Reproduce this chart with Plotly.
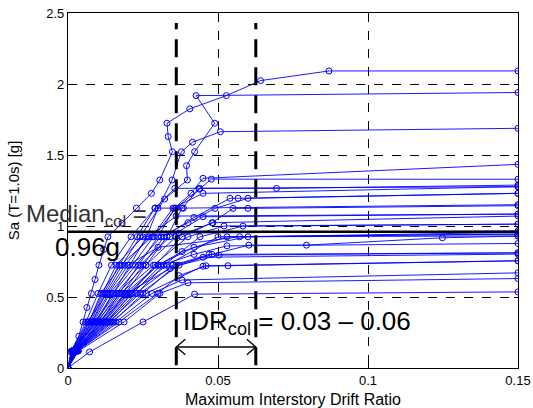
import plotly.graph_objects as go

# ---- IDA curves (max interstory drift ratio vs Sa(T=1.0s)) ----
gm01_idr = [0, 0.0009, 0.0036, 0.0050, 0.0063, 0.0078, 0.0090, 0.0103, 0.0119, 0.0133, 0.0180, 0.0228, 0.0278, 0.0306, 0.0348, 0.0334, 0.0330, 0.0406, 0.0528, 0.0642, 0.0870, 0.150]
gm01_sa = [0, 0.113, 0.224, 0.324, 0.426, 0.525, 0.623, 0.724, 0.835, 0.924, 1.02, 1.126, 1.23, 1.324, 1.523, 1.63, 1.724, 1.825, 1.918, 2.024, 2.092, 2.092]
gm02_idr = [0, 0.0020, 0.0080, 0.0125, 0.0180, 0.0240, 0.0322, 0.0398, 0.0395, 0.0422, 0.0489, 0.0427, 0.150]
gm02_sa = [0, 0.12, 0.324, 0.525, 0.724, 0.924, 1.19, 1.324, 1.425, 1.523, 1.724, 1.918, 1.94]
gm03_idr = [0, 0.0015, 0.0095, 0.0150, 0.0205, 0.0262, 0.0300, 0.0347, 0.0378, 0.0415, 0.0508, 0.150]
gm03_sa = [0, 0.12, 0.324, 0.525, 0.724, 0.924, 1.126, 1.324, 1.523, 1.59, 1.664, 1.688]
gm04_idr = [0, 0.0022, 0.0110, 0.0170, 0.0235, 0.0300, 0.0355, 0.0410, 0.0450, 0.150]
gm04_sa = [0, 0.12, 0.324, 0.525, 0.724, 0.924, 1.126, 1.23, 1.336, 1.434]
gm05_idr = [0, 0.0018, 0.0085, 0.0140, 0.0215, 0.0285, 0.0360, 0.0437, 0.0478, 0.150]
gm05_sa = [0, 0.12, 0.324, 0.525, 0.724, 0.924, 1.126, 1.26, 1.33, 1.329]
gm06_idr = [0, 0.0025, 0.0120, 0.0190, 0.0260, 0.0330, 0.0380, 0.0439, 0.0695, 0.150]
gm06_sa = [0, 0.12, 0.324, 0.525, 0.724, 0.924, 1.126, 1.265, 1.265, 1.288]
gm07_idr = [0, 0.0016, 0.0075, 0.0120, 0.0170, 0.0230, 0.0290, 0.0356, 0.150]
gm07_sa = [0, 0.12, 0.324, 0.525, 0.724, 0.924, 1.126, 1.265, 1.277]
gm08_idr = [0, 0.0023, 0.0105, 0.0180, 0.0250, 0.0320, 0.0420, 0.0540, 0.0567, 0.150]
gm08_sa = [0, 0.12, 0.324, 0.525, 0.724, 0.924, 1.06, 1.195, 1.195, 1.23]
gm09_idr = [0, 0.0028, 0.0130, 0.0210, 0.0290, 0.0380, 0.0480, 0.0550, 0.0600, 0.150]
gm09_sa = [0, 0.12, 0.324, 0.525, 0.724, 0.924, 1.023, 1.124, 1.124, 1.143]
gm10_idr = [0, 0.0019, 0.0090, 0.0160, 0.0240, 0.0340, 0.0450, 0.150]
gm10_sa = [0, 0.12, 0.324, 0.525, 0.724, 0.924, 1.065, 1.084]
gm11_idr = [0, 0.0021, 0.0100, 0.0165, 0.0260, 0.0360, 0.0483, 0.150]
gm11_sa = [0, 0.12, 0.324, 0.525, 0.724, 0.924, 1.023, 1.07]
gm12_idr = [0, 0.0030, 0.0140, 0.0230, 0.0320, 0.0440, 0.0583, 0.150]
gm12_sa = [0, 0.12, 0.324, 0.525, 0.724, 0.924, 0.999, 1.013]
gm13_idr = [0, 0.0024, 0.0115, 0.0200, 0.0300, 0.0420, 0.0600, 0.150]
gm13_sa = [0, 0.12, 0.324, 0.525, 0.724, 0.85, 0.924, 0.955]
gm14_idr = [0, 0.0017, 0.0080, 0.0135, 0.0200, 0.0300, 0.0572, 0.150]
gm14_sa = [0, 0.12, 0.324, 0.525, 0.724, 0.85, 0.924, 0.943]
gm15_idr = [0, 0.0032, 0.0150, 0.0250, 0.0360, 0.0480, 0.0603, 0.0795, 0.1248, 0.150]
gm15_sa = [0, 0.12, 0.324, 0.525, 0.724, 0.80, 0.865, 0.865, 0.917, 0.929]
gm16_idr = [0, 0.0026, 0.0125, 0.0215, 0.0310, 0.0420, 0.0530, 0.150]
gm16_sa = [0, 0.12, 0.324, 0.525, 0.724, 0.80, 0.86, 0.877]
gm17_idr = [0, 0.0027, 0.0135, 0.0240, 0.0370, 0.0503, 0.150]
gm17_sa = [0, 0.12, 0.324, 0.525, 0.724, 0.795, 0.811]
gm18_idr = [0, 0.0020, 0.0110, 0.0195, 0.0340, 0.0450, 0.150]
gm18_sa = [0, 0.12, 0.324, 0.525, 0.70, 0.78, 0.802]
gm19_idr = [0, 0.0029, 0.0145, 0.0260, 0.0450, 0.0533, 0.150]
gm19_sa = [0, 0.12, 0.324, 0.525, 0.717, 0.72, 0.755]
gm20_idr = [0, 0.0033, 0.0160, 0.0280, 0.0380, 0.150]
gm20_sa = [0, 0.12, 0.324, 0.525, 0.62, 0.67]
gm21_idr = [0, 0.0035, 0.0187, 0.0306, 0.0400, 0.150]
gm21_sa = [0, 0.12, 0.324, 0.525, 0.60, 0.63]
gm22_idr = [0, 0.0072, 0.0250, 0.0422, 0.150]
gm22_sa = [0, 0.113, 0.324, 0.52, 0.536]
gm23_idr = [0, 0.0014, 0.0070, 0.0115, 0.0160, 0.0250, 0.0370, 0.150]
gm23_sa = [0, 0.12, 0.324, 0.525, 0.724, 0.924, 0.95, 0.965]
gm24_idr = [0, 0.0012, 0.0060, 0.0100, 0.0145, 0.0210, 0.0290, 0.0385, 0.150]
gm24_sa = [0, 0.12, 0.324, 0.525, 0.724, 0.924, 1.126, 1.126, 1.15]
gm25_idr = [0, 0.0013, 0.0065, 0.0130, 0.0190, 0.0270, 0.0360, 0.150]
gm25_sa = [0, 0.12, 0.324, 0.525, 0.724, 0.924, 1.07, 1.084]
gm26_idr = [0, 0.0018, 0.0095, 0.0175, 0.0285, 0.0400, 0.0520, 0.150]
gm26_sa = [0, 0.12, 0.324, 0.525, 0.724, 0.924, 1.0, 1.013]
gm27_idr = [0, 0.0022, 0.0120, 0.0205, 0.0330, 0.0500, 0.150]
gm27_sa = [0, 0.12, 0.324, 0.525, 0.724, 0.924, 0.943]
gm28_idr = [0, 0.0025, 0.0105, 0.0190, 0.0300, 0.0380, 0.0530, 0.150]
gm28_sa = [0, 0.12, 0.324, 0.525, 0.724, 0.82, 0.924, 0.93]
gm29_idr = [0, 0.0016, 0.0070, 0.0110, 0.0175, 0.0280, 0.0350, 0.0450, 0.150]
gm29_sa = [0, 0.12, 0.324, 0.525, 0.724, 0.924, 1.126, 1.23, 1.277]
gm30_idr = [0, 0.0030, 0.0170, 0.0300, 0.0370, 0.0460, 0.150]
gm30_sa = [0, 0.12, 0.324, 0.525, 0.65, 0.72, 0.755]
gm31_idr = [0, 0.0021, 0.0090, 0.0150, 0.0225, 0.0310, 0.0400, 0.0490, 0.0600, 0.150]
gm31_sa = [0, 0.12, 0.324, 0.525, 0.724, 0.924, 1.023, 1.124, 1.195, 1.23]
gm32_idr = [0, 0.0027, 0.0130, 0.0225, 0.0350, 0.0470, 0.150]
gm32_sa = [0, 0.12, 0.324, 0.525, 0.724, 0.80, 0.811]

# ---- summary values ----
median_col = 0.96
idr_col_range = [0.0361, 0.0626]

x_ticks = [0, 0.05, 0.1, 0.15]
x_tick_labels = ["0", "0.05", "0.1", "0.15"]
y_ticks = [0, 0.5, 1, 1.5, 2, 2.5]
y_tick_labels = ["0", "0.5", "1", "1.5", "2", "2.5"]

records = [
    (gm01_idr, gm01_sa), (gm02_idr, gm02_sa), (gm03_idr, gm03_sa), (gm04_idr, gm04_sa),
    (gm05_idr, gm05_sa), (gm06_idr, gm06_sa), (gm07_idr, gm07_sa), (gm08_idr, gm08_sa),
    (gm09_idr, gm09_sa), (gm10_idr, gm10_sa), (gm11_idr, gm11_sa), (gm12_idr, gm12_sa),
    (gm13_idr, gm13_sa), (gm14_idr, gm14_sa), (gm15_idr, gm15_sa), (gm16_idr, gm16_sa),
    (gm17_idr, gm17_sa), (gm18_idr, gm18_sa), (gm19_idr, gm19_sa), (gm20_idr, gm20_sa),
    (gm21_idr, gm21_sa), (gm22_idr, gm22_sa), (gm23_idr, gm23_sa), (gm24_idr, gm24_sa),
    (gm25_idr, gm25_sa), (gm26_idr, gm26_sa), (gm27_idr, gm27_sa), (gm28_idr, gm28_sa),
    (gm29_idr, gm29_sa), (gm30_idr, gm30_sa), (gm31_idr, gm31_sa), (gm32_idr, gm32_sa),
]

FONT = "Liberation Sans, Arial, sans-serif"
fig = go.Figure()

for idr, sa in records:
    fig.add_trace(go.Scatter(
        x=idr, y=sa, mode="lines+markers",
        line=dict(color="#0000ff", width=0.9),
        marker=dict(symbol="circle-open", size=6, color="#0000ff", line=dict(width=1)),
        showlegend=False, hoverinfo="skip", cliponaxis=True,
    ))

shapes = []
# vertical thick dashed lines at the collapse-drift range
for xv in idr_col_range:
    shapes.append(dict(type="line", xref="x", yref="y", x0=xv, x1=xv, y0=0.02, y1=2.43,
                       line=dict(color="black", width=3, dash="18px,10px"), layer="above"))
# median collapse capacity line
shapes.append(dict(type="line", xref="x", yref="y", x0=0, x1=0.1505, y0=median_col, y1=median_col,
                   line=dict(color="black", width=2.5), layer="above"))
# double arrow between the two drift limits
ya = 0.148
x0, x1 = idr_col_range
dx, dy = 0.0030, 0.055
shapes.append(dict(type="line", xref="x", yref="y", x0=x0, x1=x1, y0=ya, y1=ya,
                   line=dict(color="black", width=1.3), layer="above"))
shapes.append(dict(type="path", xref="x", yref="y",
                   path=f"M {x0+dx},{ya+dy} L {x0},{ya} L {x0+dx},{ya-dy}",
                   line=dict(color="black", width=1.3), layer="above"))
shapes.append(dict(type="path", xref="x", yref="y",
                   path=f"M {x1-dx},{ya+dy} L {x1},{ya} L {x1-dx},{ya-dy}",
                   line=dict(color="black", width=1.3), layer="above"))

annotations = [
    dict(x=-0.097, y=1.075, xref="paper", yref="y", xanchor="left", yanchor="middle", showarrow=False,
         text="Median<sub>col</sub> =", font=dict(family=FONT, size=24, color="#333333")),
    dict(x=-0.034, y=0.85, xref="paper", yref="y", xanchor="left", yanchor="middle", showarrow=False,
         text="0.96g", font=dict(family=FONT, size=26, color="black")),
    dict(x=0.0378, y=0.32, xref="x", yref="y", xanchor="left", yanchor="middle", showarrow=False,
         text="IDR<sub>col</sub> = 0.03 \u2013 0.06", font=dict(family=FONT, size=26, color="black")),
]

fig.update_layout(
    width=533, height=408,
    margin=dict(l=68, r=15, t=13, b=40, autoexpand=False),
    paper_bgcolor="white", plot_bgcolor="white",
    font=dict(family=FONT, size=13, color="black"),
    shapes=shapes, annotations=annotations,
    xaxis=dict(range=[0, 0.15], tickvals=x_ticks, ticktext=x_tick_labels, automargin=False,
               showgrid=True, gridcolor="black", gridwidth=0.8, griddash="dash",
               zeroline=False, showline=True, linecolor="black", linewidth=1.2, mirror="ticks",
               ticks="inside", ticklen=4, tickcolor="black",
               title=dict(text="Maximum Interstory Drift Ratio", standoff=10, font=dict(size=16))),
    yaxis=dict(range=[0, 2.5], tickvals=y_ticks, ticktext=y_tick_labels, automargin=False,
               showgrid=True, gridcolor="black", gridwidth=0.8, griddash="dash",
               zeroline=False, showline=True, linecolor="black", linewidth=1.2, mirror="ticks",
               ticks="inside", ticklen=4, tickcolor="black",
               title=dict(text="Sa (T=1.0s) [g]", standoff=22, font=dict(size=15))),
)

fig.write_html("out.html")
